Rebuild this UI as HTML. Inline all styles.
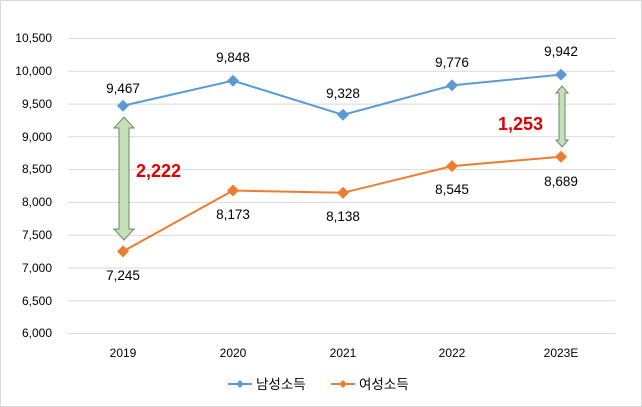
<!DOCTYPE html>
<html><head><meta charset="utf-8"><style>body{margin:0;background:#fff}svg{display:block}</style></head><body>
<svg width="642" height="407" viewBox="0 0 642 407" xmlns="http://www.w3.org/2000/svg" font-family="Liberation Sans, 'Noto Sans CJK KR', sans-serif">
<rect x="0.5" y="0.5" width="641" height="406" fill="#fff" stroke="#d9d9d9"/>
<g stroke="#d9d9d9" stroke-width="1">
<line x1="68" x2="615" y1="38.5" y2="38.5"/><line x1="68" x2="615" y1="71.3" y2="71.3"/><line x1="68" x2="615" y1="104.1" y2="104.1"/><line x1="68" x2="615" y1="136.8" y2="136.8"/><line x1="68" x2="615" y1="169.6" y2="169.6"/><line x1="68" x2="615" y1="202.4" y2="202.4"/><line x1="68" x2="615" y1="235.2" y2="235.2"/><line x1="68" x2="615" y1="268" y2="268"/><line x1="68" x2="615" y1="300.7" y2="300.7"/><line x1="68" x2="615" y1="333.5" y2="333.5"/>
</g>
<g font-size="12" fill="#000" text-anchor="end">
<text x="52" y="42">10,500</text><text x="52" y="75">10,000</text><text x="52" y="108">9,500</text><text x="52" y="141">9,000</text><text x="52" y="173">8,500</text><text x="52" y="206">8,000</text><text x="52" y="239">7,500</text><text x="52" y="272">7,000</text><text x="52" y="305">6,500</text><text x="52" y="337">6,000</text>
</g>
<g font-size="12" fill="#000" text-anchor="middle">
<text x="123" y="357">2019</text><text x="233" y="357">2020</text><text x="343" y="357">2021</text><text x="452" y="357">2022</text><text x="561" y="357">2023E</text>
</g>
<polygon points="124,117 134,128 129,128 129,229 134,229 124,240 114,229 119,229 119,128 114,128" fill="#c5dfb8" stroke="#6f8a6a" stroke-width="1"/>
<polygon points="562,86 568,93 565,93 565,140 568,140 562,147 556,140 559,140 559,93 556,93" fill="#c5dfb8" stroke="#6f8a6a" stroke-width="1"/>
<polyline points="123,105.7 233,80.7 343,114.8 452,85.4 561,74.6" fill="none" stroke="#5b9bd5" stroke-width="2"/>
<polyline points="123,251.4 233,190.5 343,192.8 452,166.1 561,156.7" fill="none" stroke="#ed7d31" stroke-width="2"/>
<g fill="#5b9bd5">
<polygon points="123,99.7 129,105.7 123,111.7 117,105.7"/><polygon points="233,74.7 239,80.7 233,86.7 227,80.7"/><polygon points="343,108.8 349,114.8 343,120.8 337,114.8"/><polygon points="452,79.4 458,85.4 452,91.4 446,85.4"/><polygon points="561,68.6 567,74.6 561,80.6 555,74.6"/>
</g>
<g fill="#ed7d31">
<polygon points="123,245.4 129,251.4 123,257.4 117,251.4"/><polygon points="233,184.5 239,190.5 233,196.5 227,190.5"/><polygon points="343,186.8 349,192.8 343,198.8 337,192.8"/><polygon points="452,160.1 458,166.1 452,172.1 446,166.1"/><polygon points="561,150.7 567,156.7 561,162.7 555,156.7"/>
</g>
<g font-size="13.5" fill="#000" text-anchor="middle">
<text x="123" y="93">9,467</text><text x="233" y="62">9,848</text><text x="343" y="98">9,328</text><text x="452" y="67">9,776</text><text x="561" y="56">9,942</text>
<text x="123" y="280">7,245</text><text x="233" y="219">8,173</text><text x="343" y="221">8,138</text><text x="452" y="194">8,545</text><text x="561" y="186">8,689</text>
</g>
<g font-size="18" font-weight="bold" fill="#e00000">
<text x="136" y="177">2,222</text><text x="498" y="130">1,253</text>
</g>
<line x1="228" x2="252" y1="384" y2="384" stroke="#5b9bd5" stroke-width="2"/>
<polygon points="240,380 244,384 240,388 236,384" fill="#5b9bd5"/>
<text x="256" y="389" font-size="13.5" fill="#000">남성소득</text>
<line x1="331" x2="355" y1="384" y2="384" stroke="#ed7d31" stroke-width="2"/>
<polygon points="343,380 347,384 343,388 339,384" fill="#ed7d31"/>
<text x="359" y="389" font-size="13.5" fill="#000">여성소득</text>
</svg>
</body></html>
